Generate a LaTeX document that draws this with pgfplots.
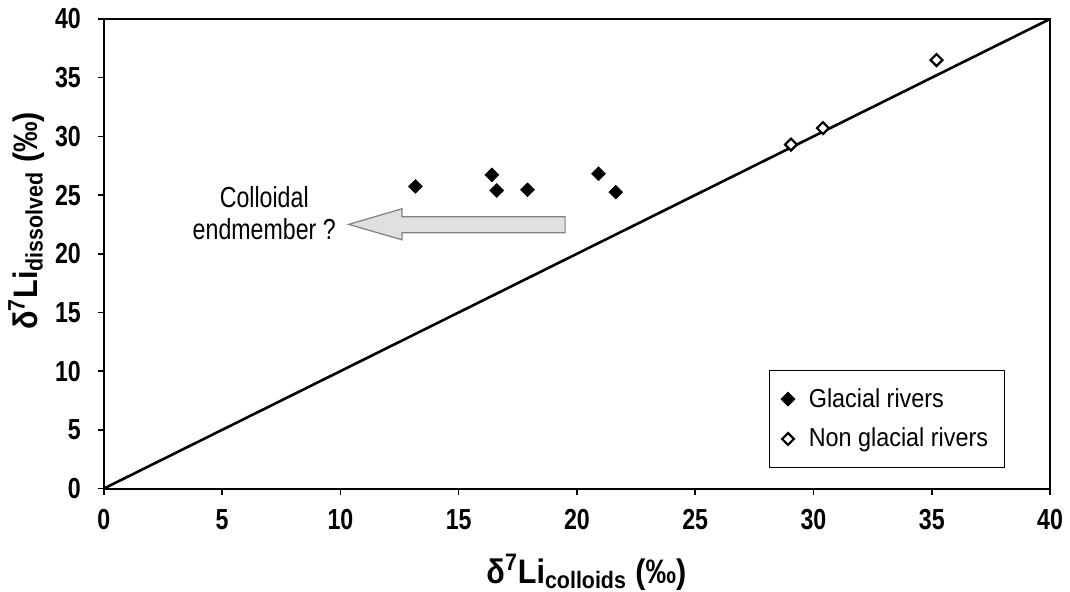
\documentclass[border=0pt]{standalone}
\usepackage{fontspec}
\setmainfont{Liberation Sans}
\newfontfamily\narrow[FakeStretch=0.8]{Liberation Sans}
\newfontfamily\semi[FakeStretch=0.9]{Liberation Sans}
\usepackage{pgfplots}
\pgfplotsset{compat=1.18}
\begin{document}
\begin{tikzpicture}
\path[use as bounding box] (-52pt,-51.5pt) rectangle (483.5pt,244.5pt);
\begin{axis}[
  at={(0,0)}, anchor=south west,
  scale only axis, width=473.5pt, height=235pt,
  xmin=0, xmax=40, ymin=0, ymax=40,
  xtick={0,5,...,40}, ytick={0,5,...,40},
  tick align=outside, xtick pos=bottom, ytick pos=left,
  major tick length=3pt,
  axis line style={line width=1pt},
  tick style={line width=0.8pt, black},
  /pgf/number format/assume math mode=true,
  ticklabel style={font=\narrow\bfseries\fontsize{14.5}{16}\selectfont},
  xticklabel style={yshift=-4pt},
  yticklabel style={xshift=-5pt},
  xlabel={\semi\bfseries δ\textsuperscript{7}Li\textsubscript{colloids} (‰)},
  ylabel={\semi\bfseries δ\textsuperscript{7}Li\textsubscript{dissolved} (‰)},
  label style={font=\fontsize{17}{19}\selectfont},
  xlabel style={at={(axis description cs:0.51,-0.178)}, anchor=center},
  ylabel style={at={(axis description cs:-0.082,0.57)}, anchor=center},
  legend style={at={(axis description cs:0.952,0.043)}, anchor=south east,
    draw=black, line width=0.5pt, font=\semi\fontsize{13}{15}\selectfont,
    inner xsep=6pt, inner ysep=7pt, row sep=5pt, column sep=5pt, cells={anchor=west}},
  legend cell align=left,
]
\addplot[black, line width=1.3pt, forget plot] coordinates {(0,0) (40,40)};
\addplot[only marks, mark=square*, mark size=2.4pt, mark options={rotate=45, fill=black, draw=black}]
  coordinates {(13.17,25.73) (16.40,26.72) (16.61,25.39) (17.91,25.45) (20.91,26.81) (21.64,25.25)};
\addlegendentry{Glacial rivers}
\addplot[only marks, mark=square*, mark size=2.1pt, mark options={rotate=45, fill=white, draw=black, line width=1.1pt}]
  coordinates {(29.05,29.3) (30.4,30.7) (35.2,36.5)};
\addlegendentry{Non glacial rivers}
\draw[fill=black!12, draw=black!50, line width=0.6pt]
  (axis cs:19.5,23.15) -- (axis cs:12.6,23.15) -- (axis cs:12.6,23.83) -- (axis cs:10.35,22.5)
  -- (axis cs:12.6,21.19) -- (axis cs:12.6,21.79) -- (axis cs:19.5,21.79) -- cycle;
\node[anchor=east, align=center, font=\narrow\fontsize{14.5}{16}\selectfont] at (axis cs:10.1,23.5) {Colloidal\\endmember ?};
\end{axis}
\end{tikzpicture}
\end{document}
